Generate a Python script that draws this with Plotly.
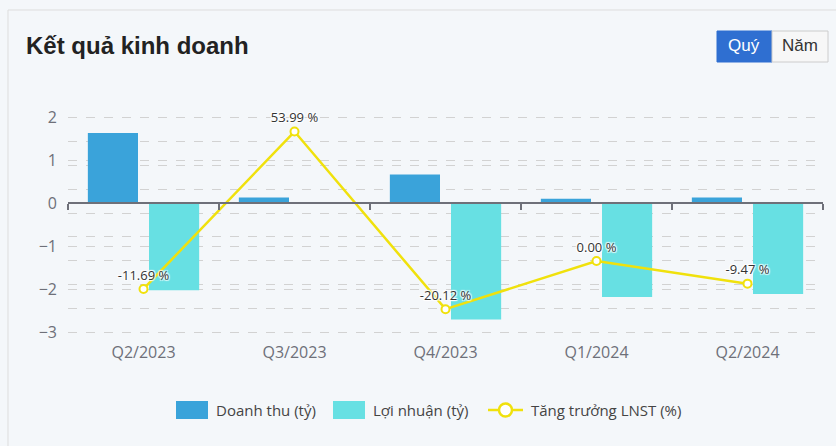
import plotly.graph_objects as go

categories = ["Q2/2023", "Q3/2023", "Q4/2023", "Q1/2024", "Q2/2024"]
doanh_thu = [1.63, 0.14, 0.67, 0.11, 0.14]
loi_nhuan = [-2.01, -0.01, -2.69, -2.17, -2.10]
tang_truong = [-11.69, 53.99, -20.12, 0.00, -9.47]
growth_labels = [f"{v:.2f} %" for v in tang_truong]
series_names = ["Doanh thu (tỷ)", "Lợi nhuận (tỷ)", "Tăng trưởng LNST (%)"]

y_ticks = [-3, -2, -1, 0, 1, 2]
y_range = [-3.05, 2.05]
y2_range = [-30.9, 60.9]

FONT = "Open Sans, Noto Sans, sans-serif"
GRID = "#d2d2d2"
AXIS = "#6e7079"
C_DT = "#3aa3da"
C_LN = "#67e0e3"
C_LINE = "#f0e10c"

W, H = 836, 446
L, R, T, B = 68, 13, 115, 111
PW, PH = W - L - R, H - T - B


def px(x):
    return (x - L) / PW


def py(y):
    return (H - B - y) / PH


fig = go.Figure()
fig.add_trace(go.Bar(
    x=categories, y=doanh_thu, name=series_names[0], showlegend=False,
    marker=dict(color=C_DT, line=dict(width=0)),
))
fig.add_trace(go.Bar(
    x=categories, y=loi_nhuan, name=series_names[1], showlegend=False,
    marker=dict(color=C_LN, line=dict(width=0)),
))
fig.add_trace(go.Scatter(
    x=categories, y=tang_truong, name=series_names[2], showlegend=False,
    yaxis="y2", mode="lines+markers+text", cliponaxis=False,
    line=dict(color=C_LINE, width=2.5),
    marker=dict(symbol="circle", size=8, color="#ffffff",
                line=dict(color=C_LINE, width=2)),
    text=growth_labels, textposition="top center",
    textfont=dict(size=13, color="#333", family=FONT,
                  shadow="1px 1px 1px #fff, -1px -1px 1px #fff, 1px -1px 1px #fff, -1px 1px 1px #fff"),
))
# zero-line axis with boundary ticks
fig.add_trace(go.Scatter(
    x=categories, y=[None] * len(categories), xaxis="x2", yaxis="y",
    mode="lines", showlegend=False, hoverinfo="skip",
))

shapes = [
    dict(type="rect", xref="paper", yref="paper",
         x0=px(8), x1=px(845), y0=py(460), y1=py(10),
         line=dict(color="#dddddd", width=1), fillcolor="rgba(0,0,0,0)",
         layer="below"),
    dict(type="rect", xref="paper", yref="paper",
         x0=px(717), x1=px(772), y0=py(62), y1=py(31),
         line=dict(color="#2f6fd1", width=1), fillcolor="#2f6fd1"),
    dict(type="rect", xref="paper", yref="paper",
         x0=px(772), x1=px(828), y0=py(62), y1=py(31),
         line=dict(color="#cccccc", width=1), fillcolor="#f7f7f7"),
    # custom legend
    dict(type="rect", xref="paper", yref="paper",
         x0=px(176), x1=px(208), y0=py(419), y1=py(401),
         line=dict(width=0), fillcolor=C_DT),
    dict(type="rect", xref="paper", yref="paper",
         x0=px(333), x1=px(365), y0=py(419), y1=py(401),
         line=dict(width=0), fillcolor=C_LN),
    dict(type="line", xref="paper", yref="paper",
         x0=px(488), x1=px(523), y0=py(410), y1=py(410),
         line=dict(color=C_LINE, width=2.5)),
    dict(type="circle", xref="paper", yref="paper",
         x0=px(499), x1=px(512), y0=py(416.5), y1=py(403.5),
         line=dict(color=C_LINE, width=2.5), fillcolor="#ffffff"),
]

annotations = [
    dict(text="<b>Kết quả kinh doanh</b>", xref="paper", yref="paper",
         x=px(24), y=py(46), xanchor="left", yanchor="middle",
         showarrow=False, font=dict(size=24, color="#222", family="Liberation Sans, Arial")),
    dict(text="Quý", xref="paper", yref="paper",
         x=px(744), y=py(46), xanchor="center", yanchor="middle",
         showarrow=False, font=dict(size=17, color="#ffffff", family="Liberation Sans, Arial")),
    dict(text="Năm", xref="paper", yref="paper",
         x=px(800), y=py(46), xanchor="center", yanchor="middle",
         showarrow=False, font=dict(size=17, color="#333", family="Liberation Sans, Arial")),
]
for name, xl in zip(series_names, [214, 371, 529]):
    annotations.append(dict(
        text=name, xref="paper", yref="paper", x=px(xl), y=py(410),
        xanchor="left", yanchor="middle", showarrow=False,
        font=dict(size=15, color="#444", family=FONT)))

fig.update_layout(
    width=W, height=H,
    margin=dict(l=L, r=R, t=T, b=B),
    paper_bgcolor="#f4f7fa", plot_bgcolor="#f4f7fa",
    barmode="group", bargap=0.19, bargroupgap=0.18,
    font=dict(family=FONT, color=AXIS, size=15),
    showlegend=False,
    xaxis=dict(
        type="category", categoryarray=categories, range=[-0.5, 4.5],
        showgrid=False, showline=False, zeroline=False, ticks="",
        tickfont=dict(size=16, color=AXIS), ticklabelstandoff=6,
    ),
    xaxis2=dict(
        type="category", categoryarray=categories, range=[-0.5, 4.5],
        overlaying="x", anchor="free",
        position=(0 - y_range[0]) / (y_range[1] - y_range[0]), side="bottom",
        showticklabels=False, showgrid=False, showline=True,
        linecolor=AXIS, linewidth=1.5, ticks="outside", tickson="boundaries",
        ticklen=6, tickcolor=AXIS, tickwidth=1.5, zeroline=False,
    ),
    yaxis=dict(
        range=y_range, tickvals=y_ticks, showgrid=True, gridcolor=GRID,
        griddash="dash", gridwidth=1, zeroline=False, showline=False,
        tickfont=dict(size=16, color=AXIS), ticklabelstandoff=10,
    ),
    yaxis2=dict(
        range=y2_range, tick0=0, dtick=10, overlaying="y", side="right",
        showticklabels=False, showgrid=True, gridcolor=GRID,
        griddash="dash", gridwidth=1, zeroline=False, showline=False,
    ),
    shapes=shapes,
    annotations=annotations,
)

fig.write_html("out.html")
